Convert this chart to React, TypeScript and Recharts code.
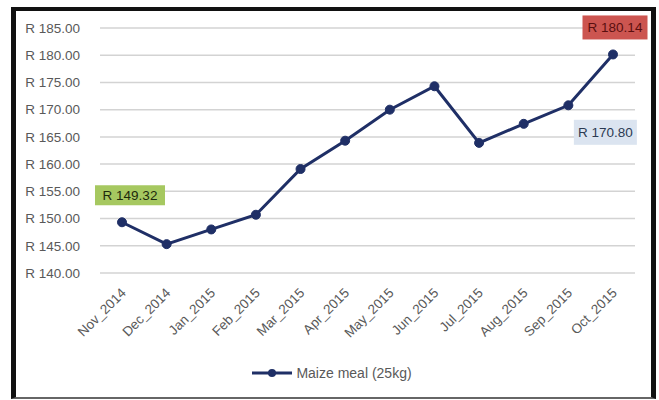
import React from 'react';
import { LineChart, Line, XAxis, YAxis, CartesianGrid, LabelList, Legend } from 'recharts';

const months = ['Nov_2014', 'Dec_2014', 'Jan_2015', 'Feb_2015', 'Mar_2015', 'Apr_2015', 'May_2015', 'Jun_2015', 'Jul_2015', 'Aug_2015', 'Sep_2015', 'Oct_2015'];
const prices = [149.32, 145.3, 148.0, 150.7, 159.1, 164.3, 170.0, 174.3, 163.9, 167.4, 170.8, 180.14];
const yTicks = [140, 145, 150, 155, 160, 165, 170, 175, 180, 185];
const seriesName = 'Maize meal (25kg)';
const calloutMonths = ['Nov_2014', 'Sep_2015', 'Oct_2015'];

const data = months.map((m, i) => ({ month: m, price: prices[i] }));

const LINE = '#1f2f66';
const TEXT = '#595959';
const FONT = '"Liberation Sans", Arial, sans-serif';

// Callout box styling, keyed by month
const calloutStyle: Record<string, { dx: number; dy: number; w: number; h: number; fill: string; color: string }> = {
  Nov_2014: { dx: 8, dy: -27, w: 70, h: 20, fill: '#a6c860', color: '#1d2a0c' },
  Sep_2015: { dx: 37, dy: 27, w: 63, h: 25, fill: '#dbe4f0', color: '#2b3a52' },
  Oct_2015: { dx: 2, dy: -27, w: 65, h: 24, fill: '#cc5550', color: '#5a0f0f' },
};

const fmt = (v: number) => `R ${v.toFixed(2)}`;

const Callout = (props: any) => {
  const { x, y, value, index } = props;
  const m = months[index];
  if (!calloutMonths.includes(m)) return null;
  const s = calloutStyle[m];
  const cx = x + s.dx;
  const cy = y + s.dy;
  return (
    <g>
      <rect x={cx - s.w / 2} y={cy - s.h / 2} width={s.w} height={s.h} fill={s.fill} />
      <text x={cx} y={cy} textAnchor="middle" dominantBaseline="central" fontSize={13.5} fontFamily={FONT} fill={s.color}>
        {fmt(value)}
      </text>
    </g>
  );
};

const XTick = (props: any) => {
  const { x, y, payload } = props;
  return (
    <g transform={`translate(${x - 2},${y + 6})`}>
      <text transform="rotate(-45)" textAnchor="end" dy="0.71em" fontSize={13.5} fontFamily={FONT} fill={TEXT}>
        {payload.value}
      </text>
    </g>
  );
};

const LegendContent = () => (
  <div style={{ display: 'flex', justifyContent: 'center', alignItems: 'center', fontFamily: FONT, fontSize: 14, color: TEXT }}>
    <svg width={42} height={12} style={{ marginRight: 3 }}>
      <line x1={1} y1={6} x2={41} y2={6} stroke={LINE} strokeWidth={3} />
      <circle cx={21} cy={6} r={4} fill={LINE} />
    </svg>
    <span>{seriesName}</span>
  </div>
);

export default function App() {
  return (
    <div style={{ position: 'absolute', left: 0, top: 0, width: 659, height: 400, background: '#fff' }}>
      <LineChart width={659} height={400} data={data} margin={{ top: 28, right: 24, bottom: 47, left: 14 }}>
        <CartesianGrid horizontal vertical={false} stroke="#d3d3d3" strokeWidth={1.5} />
        <XAxis
          dataKey="month"
          axisLine={false}
          tickLine={false}
          interval={0}
          padding={{ left: 22, right: 22 }}
          tick={<XTick />}
          height={80}
        />
        <YAxis
          domain={[140, 185]}
          ticks={yTicks}
          interval={0}
          axisLine={false}
          tickLine={false}
          width={86}
          tickFormatter={fmt}
          tickMargin={14}
          tick={{ fontSize: 13.5, fontFamily: FONT, fill: TEXT }}
        />
        <Legend
          layout="horizontal"
          verticalAlign="middle"
          align="center"
          content={<LegendContent />}
          wrapperStyle={{ position: 'absolute', top: 365, left: 2, width: 659 }}
        />
        <Line
          type="linear"
          dataKey="price"
          name={seriesName}
          stroke={LINE}
          strokeWidth={3}
          dot={{ r: 4.5, fill: LINE, stroke: LINE, strokeWidth: 1 }}
          isAnimationActive={false}
        >
          <LabelList dataKey="price" content={<Callout />} />
        </Line>
      </LineChart>
      <div
        style={{
          position: 'absolute',
          left: 11,
          top: 7,
          width: 645,
          height: 392,
          boxSizing: 'border-box',
          borderLeft: '5px solid #111',
          borderTop: '4px solid #111',
          borderRight: '5px solid #111',
          borderBottom: '2px solid #666',
          pointerEvents: 'none',
        }}
      />
    </div>
  );
}
